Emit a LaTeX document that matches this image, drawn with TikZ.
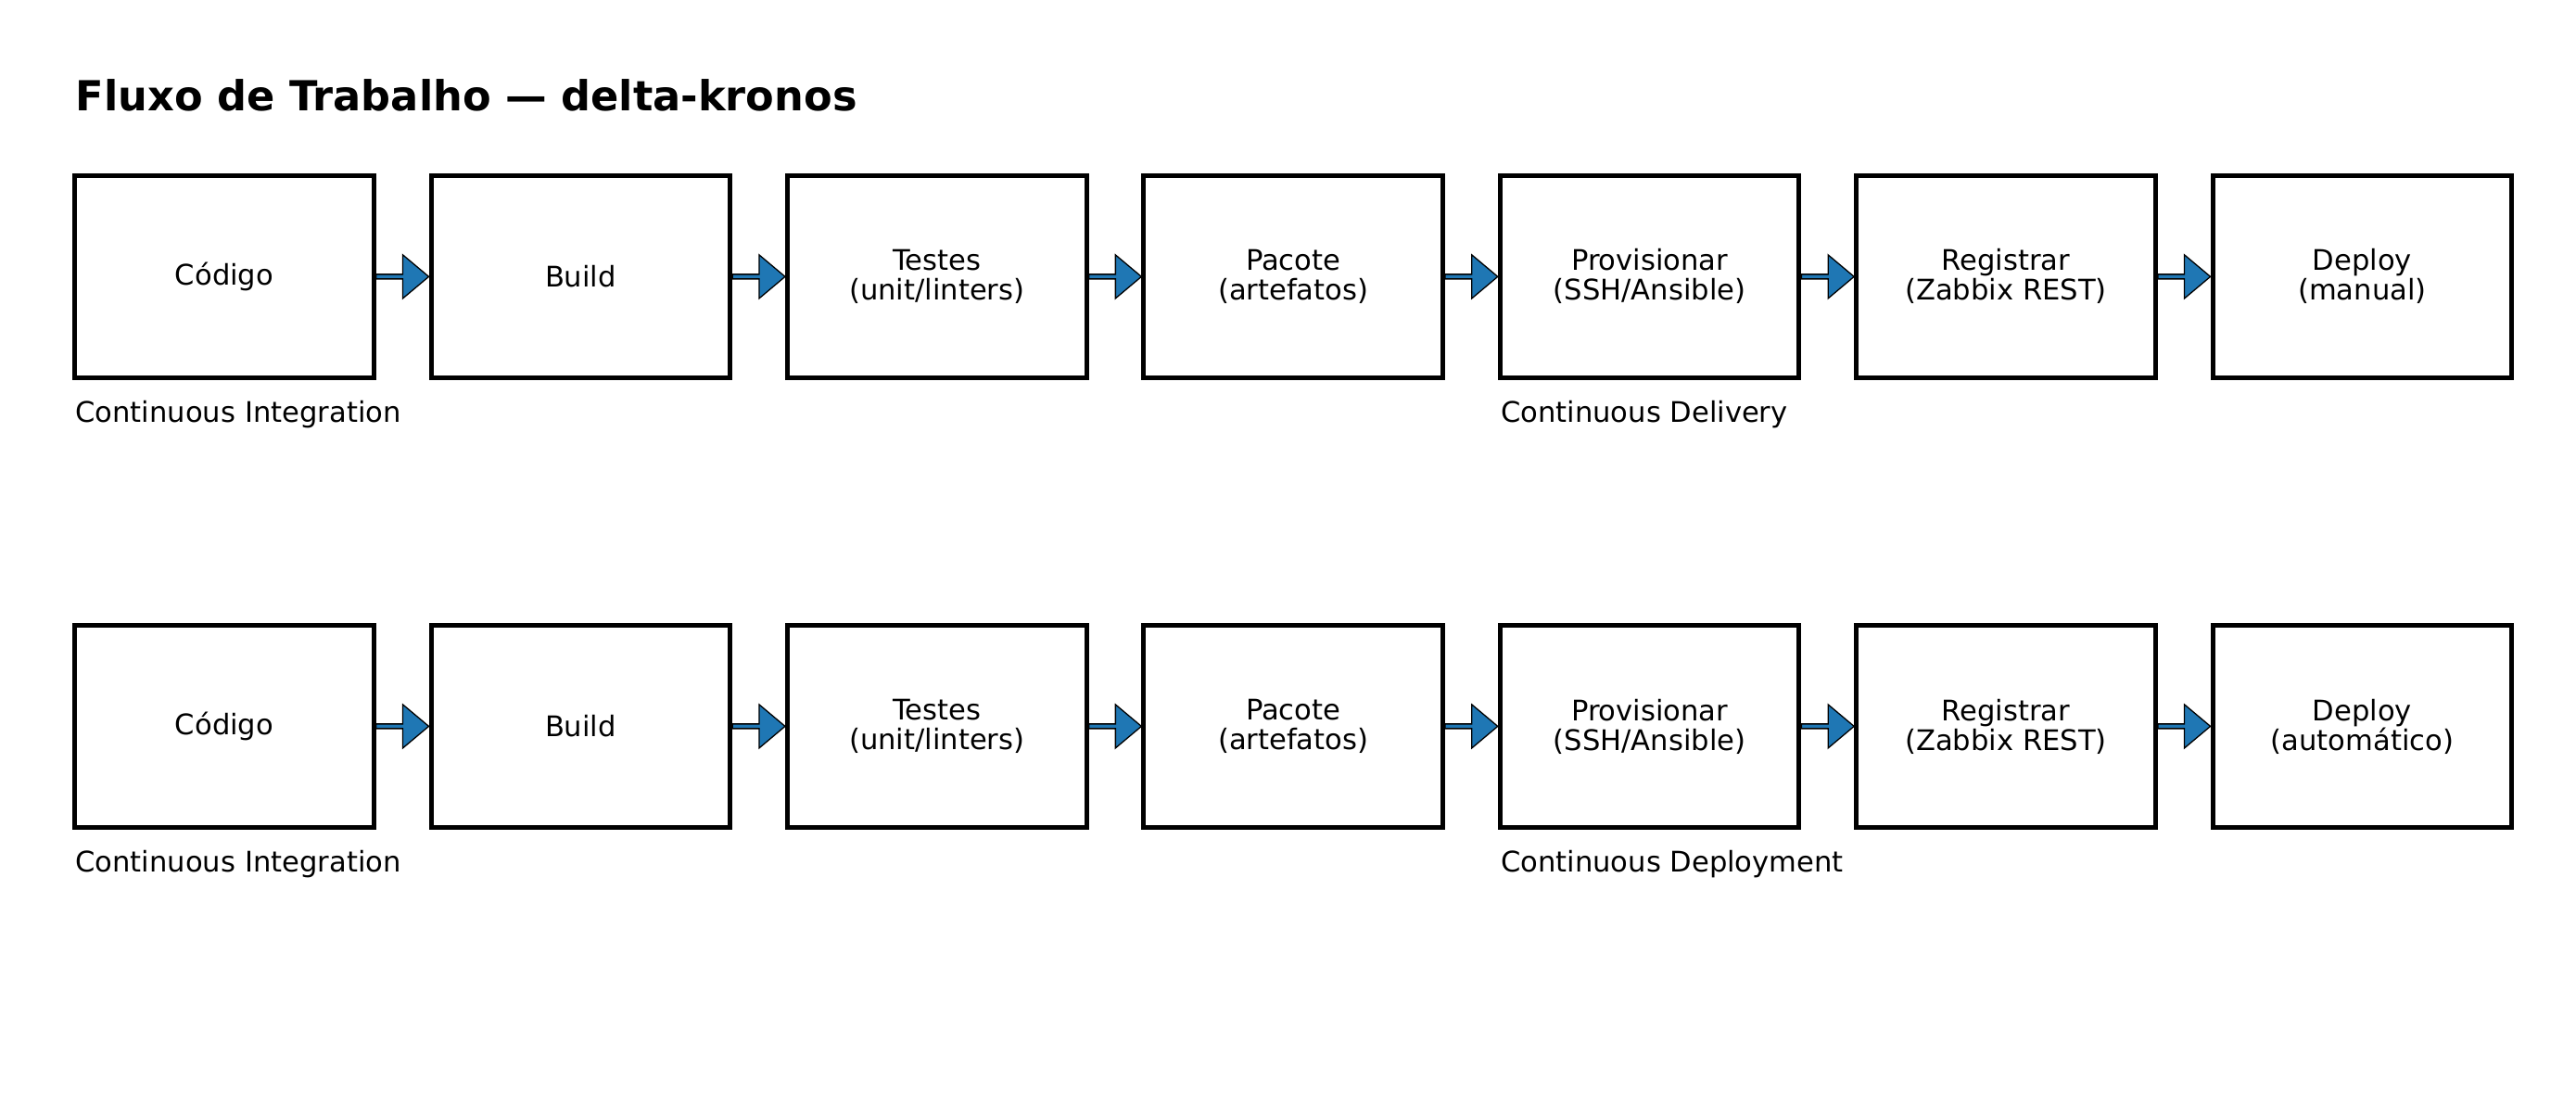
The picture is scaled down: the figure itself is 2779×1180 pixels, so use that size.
\documentclass[tikz,border=0pt]{standalone}
\usepackage{fontspec}
\setmainfont{DejaVu Sans}
\usepackage{tikz}
\usetikzlibrary{calc}
\definecolor{flowblue}{HTML}{1F77B4}

\tikzset{
	stage/.style={draw=black, line width=1.42pt, minimum width=3.225cm, minimum height=2.183cm, inner sep=0pt, align=center, font=\fontsize{8.7pt}{9.1pt}\selectfont},
	phase/.style={anchor=base west, inner sep=0pt, font=\fontsize{8.7pt}{9.1pt}\selectfont},
	flow/.style={draw=black, fill=flowblue, line width=0.37pt, line join=miter}
}

\begin{document}
\begin{tikzpicture}[x=0.01cm, y=-0.01cm]
	\useasboundingbox (0,0) rectangle (2779,1180);
	
	\node[anchor=base west, inner sep=0pt, font=\bfseries\fontsize{12.7pt}{15pt}\selectfont] (title) at (81,119.3) {Fluxo de Trabalho — delta-kronos};
	
	% manual deploy
	\node[stage] (a1) at (242,298.4) {Código};
	\node[stage] (a2) at (626.4,298.4) {Build};
	\node[stage] (a3) at (1010.8,298.4) {Testes\\(unit/linters)};
	\node[stage] (a4) at (1395.2,298.4) {Pacote\\(artefatos)};
	\node[stage] (a5) at (1779.6,298.4) {Provisionar\\(SSH/Ansible)};
	\node[stage] (a6) at (2164,298.4) {Registrar\\(Zabbix REST)};
	\node[stage] (a7) at (2548.4,298.4) {Deploy\\(manual)};
	\node[phase] (ci1) at (80.8,456) {Continuous Integration};
	\node[phase] (cd1) at (1618.4,456) {Continuous Delivery};
	
	% automatic deploy
	\node[stage] (b1) at (242,783.4) {Código};
	\node[stage] (b2) at (626.4,783.4) {Build};
	\node[stage] (b3) at (1010.8,783.4) {Testes\\(unit/linters)};
	\node[stage] (b4) at (1395.2,783.4) {Pacote\\(artefatos)};
	\node[stage] (b5) at (1779.6,783.4) {Provisionar\\(SSH/Ansible)};
	\node[stage] (b6) at (2164,783.4) {Registrar\\(Zabbix REST)};
	\node[stage] (b7) at (2548.4,783.4) {Deploy\\(automático)};
	\node[phase] (ci2) at (80.8,941) {Continuous Integration};
	\node[phase] (cd2) at (1618.4,941) {Continuous Deployment};
	
	\foreach \src/\dst in {a1/a2,a2/a3,a3/a4,a4/a5,a5/a6,a6/a7,b1/b2,b2/b3,b3/b4,b4/b5,b5/b6,b6/b7}
		\draw[flow] ($(\src.east)+(0,-2.5)$) -- ($(\dst.west)+(-28,-2.5)$) -- ($(\dst.west)+(-28,-23.5)$) -- (\dst.west)
			-- ($(\dst.west)+(-28,23.5)$) -- ($(\dst.west)+(-28,2.5)$) -- ($(\src.east)+(0,2.5)$) -- cycle;
	
\end{tikzpicture}
\end{document}
